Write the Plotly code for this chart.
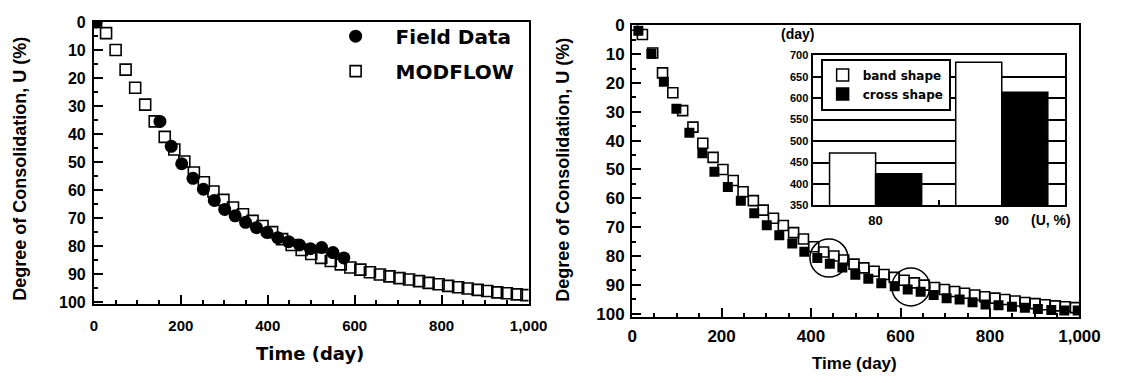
import plotly.graph_objects as go

# ---------------- data ----------------
# Left panel: MODFLOW (open squares) and field data (filled circles)
mod_t = [5, 28, 50, 73, 95, 118, 140, 163, 185, 208, 230, 253, 275, 298, 320,
         343, 365, 388, 410, 433, 455, 478, 500, 523, 545, 568, 590, 613, 635, 658,
         680, 703, 725, 748, 770, 793, 815, 838, 860, 883, 905, 928, 950, 973, 995]
mod_u = [0, 4, 10, 17, 23.5, 29.5, 35.5, 41, 45.5, 49.8, 53.7, 57.2, 60.5, 63.5, 66.2,
         68.6, 71, 72.8, 75, 77.5, 79.6, 81.4, 82.8, 84.2, 85.3, 86.5, 87.6, 88.4, 89.3, 90.1,
         90.8, 91.4, 91.9, 92.5, 93.1, 93.6, 94.2, 94.7, 95.1, 95.6, 96.0, 96.5, 96.8, 97.2, 97.5]
field_t = [5, 152, 178, 202, 228, 252, 277, 301, 325, 349, 374, 398, 423, 448, 473,
           498, 524, 550, 575]
field_u = [0, 35.5, 44.4, 50.6, 55.8, 59.7, 63.7, 66.9, 69.2, 71.5, 73.4, 75.1, 77.0, 78.4, 79.6,
           80.9, 80.5, 82.3, 84.2]

# Right panel: band shape (open squares) and cross shape (filled squares)
band_t = [1, 23, 46, 68, 91, 113, 136, 158, 181, 203, 226, 248, 271, 293, 316,
          338, 361, 383, 406, 428, 451, 473, 496, 518, 541, 563, 586, 608, 631, 653,
          676, 698, 721, 743, 766, 788, 811, 833, 856, 878, 901, 923, 946, 968, 991]
band_u = [0, 3.2, 9.6, 16.5, 23.4, 29.6, 35.3, 40.9, 45.8, 50, 53.8, 57.7, 60.8, 64.1, 66.9,
          69.4, 71.9, 74.1, 76.8, 78.6, 80.0, 81.4, 82.8, 84.1, 85.3, 86.4, 87.4, 88.4, 89.3, 90.1,
          90.9, 91.6, 92.3, 92.9, 93.5, 94.1, 94.6, 95.1, 95.6, 96.1, 96.5, 96.9, 97.3, 97.6, 97.9]
cross_t = [14, 43, 71, 99, 128, 157, 184, 214, 243, 273, 301, 329, 358, 385, 414,
           442, 470, 499, 528, 557, 587, 616, 645, 674, 703, 732, 761, 790, 819, 849,
           878, 907, 937, 966, 996]
cross_u = [1.9, 9.9, 19.6, 28.9, 37.3, 44.4, 50.8, 56.1, 60.8, 65.2, 69.3, 72.8, 75.7, 78.5, 80.7,
           82.7, 84, 86.5, 87.9, 89.4, 90.5, 91.6, 92.4, 93.5, 94.6, 95.1, 96, 96.8, 97.1, 97.6,
           97.9, 98.4, 98.7, 98.9, 98.9]

# Inset bar chart: days to reach U = 80 % and 90 %
inset_cats = ["80", "90"]
inset_band = [472, 684]
inset_cross = [424, 614]

# Highlight circles on the right panel (data coordinates of centres)
circle_t = [440, 623]
circle_u = [80.7, 90.7]

# ---------------- figure ----------------
W, H = 1121, 383


def px(x):
    return x / W


def py(y):
    return 1 - y / H


BOLD_ARIAL = dict(family="Liberation Sans, Arial", weight="bold", color="black")
BOLD_DV = dict(family="DejaVu Sans", weight="bold", color="black")

fig = go.Figure()

fig.add_trace(go.Scatter(
    x=mod_t, y=mod_u, mode="markers", name="MODFLOW",
    marker=dict(symbol="square-open", size=11, color="black", line=dict(width=1.6)),
    xaxis="x", yaxis="y", legend="legend", legendgroup="m", legendrank=2))
fig.add_trace(go.Scatter(
    x=field_t, y=field_u, mode="markers", name="Field Data",
    marker=dict(symbol="circle", size=13, color="black"),
    xaxis="x", yaxis="y", legend="legend", legendgroup="f", legendrank=1))

fig.add_trace(go.Scatter(
    x=band_t, y=band_u, mode="markers", name="band shape (curve)", showlegend=False,
    marker=dict(symbol="square-open", size=10, color="black", line=dict(width=1.6)),
    xaxis="x2", yaxis="y2"))
fig.add_trace(go.Scatter(
    x=cross_t, y=cross_u, mode="markers", name="cross shape (curve)", showlegend=False,
    marker=dict(symbol="square", size=10, color="black"),
    xaxis="x2", yaxis="y2"))

fig.add_trace(go.Bar(
    x=inset_cats, y=inset_band, name="band shape",
    marker=dict(color="white", line=dict(color="black", width=1.5)),
    xaxis="x3", yaxis="y3", legend="legend2"))
fig.add_trace(go.Bar(
    x=inset_cats, y=inset_cross, name="cross shape",
    marker=dict(color="black", line=dict(color="black", width=1.5)),
    xaxis="x3", yaxis="y3", legend="legend2"))

axis_common = dict(showline=True, linecolor="black", linewidth=2, mirror=True,
                   ticks="inside", tickcolor="black", tickwidth=1.5,
                   showgrid=False, zeroline=False)

fig.update_layout(
    width=W, height=H, margin=dict(l=0, r=0, t=0, b=0),
    paper_bgcolor="white", plot_bgcolor="white",
    barmode="group", bargap=0.27, bargroupgap=0,
    xaxis=dict(domain=[px(91), px(536)], range=[0, 1000], anchor="y",
               dtick=200, tickformat=",", ticklen=9, ticklabelstandoff=7,
               minor=dict(dtick=50, ticks="inside", ticklen=4, tickwidth=1.5, tickcolor="black"),
               tickfont=dict(size=15, **BOLD_ARIAL), **axis_common),
    yaxis=dict(domain=[py(308), py(13.5)], range=[100.7, 0], anchor="x",
               dtick=10, ticklen=9, ticklabelstandoff=3,
               minor=dict(dtick=5, ticks="inside", ticklen=4, tickwidth=1.5, tickcolor="black"),
               tickfont=dict(size=16, **BOLD_ARIAL), **axis_common),
    xaxis2=dict(domain=[px(642), px(1100)], range=[0, 1000], anchor="y2",
                dtick=200, tickformat=",", ticklen=9, ticklabelstandoff=3,
                minor=dict(dtick=50, ticks="inside", ticklen=4, tickwidth=1.5, tickcolor="black"),
                tickfont=dict(size=17, **BOLD_ARIAL), **axis_common),
    yaxis2=dict(domain=[py(321), py(17)], range=[101, 0], anchor="x2",
                dtick=10, ticklen=9, ticklabelstandoff=2,
                minor=dict(dtick=5, ticks="inside", ticklen=4, tickwidth=1.5, tickcolor="black"),
                tickfont=dict(size=17, **BOLD_ARIAL), **axis_common),
    xaxis3=dict(domain=[px(826.7), px(1085)], anchor="y3", type="category",
                tickson="boundaries", ticks="inside", ticklen=5, tickwidth=1.5,
                tickcolor="black", showline=True, linecolor="black", linewidth=2,
                mirror=True, showgrid=False, zeroline=False, ticklabelstandoff=2,
                tickfont=dict(size=13, **BOLD_ARIAL)),
    yaxis3=dict(domain=[py(205), py(48.3)], range=[350, 700], anchor="x3",
                dtick=50, ticks="", showline=True, linecolor="black", linewidth=2,
                mirror=True, showgrid=True, gridcolor="black", gridwidth=1.5,
                zeroline=False, tickfont=dict(size=11, **BOLD_ARIAL)),
    legend=dict(x=px(318), y=py(8), xanchor="left", yanchor="top",
                bgcolor="rgba(0,0,0,0)", borderwidth=0, tracegroupgap=6,
                traceorder="grouped", itemwidth=70,
                font=dict(size=20, **BOLD_DV)),
    legend2=dict(x=px(835), y=py(51.7), xanchor="left", yanchor="top",
                 bgcolor="white", bordercolor="black", borderwidth=2,
                 tracegroupgap=0, traceorder="normal",
                 font=dict(size=12, **BOLD_DV)),
    showlegend=True,
)

# highlight circles
for ct, cu in zip(circle_t, circle_u):
    fig.add_shape(type="circle", xref="x2", yref="y2",
                  xsizemode="pixel", ysizemode="pixel",
                  xanchor=ct, yanchor=cu, x0=-19, x1=19, y0=-19, y1=19,
                  line=dict(color="black", width=1.5), layer="above")

annos = [
    dict(text="Degree of Consolidation, U (%)", x=px(15), y=py(167), textangle=-90,
         font=dict(size=18, **BOLD_ARIAL)),
    dict(text="Degree of Consolidation, U (%)", x=px(571), y=py(168), textangle=-90,
         font=dict(size=18, **BOLD_ARIAL)),
    dict(text="Time (day)", x=px(312), y=py(360), font=dict(size=18, **BOLD_DV)),
    dict(text="Time (day)", x=px(870), y=py(370), font=dict(size=17, **BOLD_ARIAL)),
    dict(text="(day)", x=px(811), y=py(26), font=dict(size=14, **BOLD_ARIAL)),
    dict(text="(U, %)", x=px(1071), y=py(220), font=dict(size=14, **BOLD_ARIAL)),
]
for a in annos:
    fig.add_annotation(xref="paper", yref="paper", showarrow=False,
                       xanchor="center", yanchor="middle", **a)

fig.write_html("out.html")
